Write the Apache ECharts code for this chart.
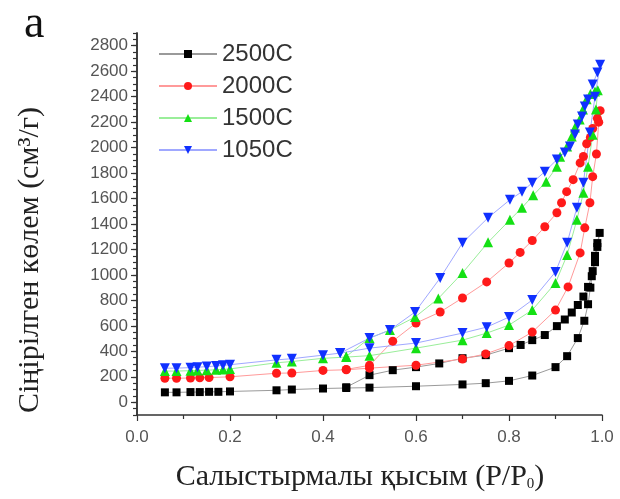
<!DOCTYPE html>
<html>
<head>
<meta charset="utf-8">
<script src="https://cdn.jsdelivr.net/npm/echarts@6/dist/echarts.min.js"></script>
<style>
  html, body { margin: 0; padding: 0; background: #fff; }
  #chart { width: 620px; height: 499px; }
</style>
</head>
<body>
<div id="chart"></div>
<script>
// adsorption branch followed by desorption branch, P/P0 and volume (cm3/g)
const p2500 = [0.06, 0.085, 0.115, 0.135, 0.155, 0.175, 0.2, 0.3, 0.333, 0.4, 0.45, 0.5, 0.6, 0.7, 0.75, 0.8, 0.85, 0.9, 0.925, 0.948, 0.962, 0.97, 0.975, 0.98, 0.985, 0.99, 0.995,
  0.99, 0.985, 0.978, 0.97, 0.96, 0.948, 0.935, 0.92, 0.903, 0.877, 0.85, 0.825, 0.8, 0.75, 0.7, 0.65, 0.6, 0.55, 0.5, 0.45];
const v2500 = [78, 78, 80, 80, 82, 82, 85, 94, 100, 108, 112, 115, 126, 140, 150, 168, 210, 276, 362, 504, 640, 770, 900, 1030, 1150, 1250, 1330,
  1220, 1100, 990, 906, 830, 764, 705, 650, 598, 528, 488, 450, 425, 370, 346, 305, 276, 252, 213, 118];

const p2000 = [0.06, 0.085, 0.115, 0.135, 0.155, 0.2, 0.3, 0.333, 0.4, 0.45, 0.5, 0.6, 0.7, 0.75, 0.8, 0.85, 0.9, 0.927, 0.953, 0.963, 0.974, 0.98, 0.988, 0.993, 0.996,
  0.99, 0.98, 0.975, 0.967, 0.96, 0.953, 0.938, 0.924, 0.913, 0.903, 0.877, 0.85, 0.824, 0.8, 0.752, 0.7, 0.652, 0.6, 0.55, 0.5, 0.45];
const v2000 = [189, 189, 190, 192, 194, 200, 228, 230, 250, 255, 268, 291, 340, 380, 445, 551, 724, 906, 1173, 1370, 1567, 1772, 1950, 2200, 2290,
  2230, 2150, 2080, 2030, 1930, 1880, 1748, 1654, 1567, 1488, 1378, 1270, 1177, 1094, 945, 819, 709, 622, 480, 290, 258];

const p1500 = [0.06, 0.085, 0.115, 0.13, 0.15, 0.17, 0.185, 0.2, 0.3, 0.333, 0.4, 0.45, 0.5, 0.6, 0.7, 0.752, 0.8, 0.85, 0.9, 0.925, 0.946, 0.96, 0.97, 0.98, 0.987, 0.991,
  0.985, 0.975, 0.967, 0.959, 0.952, 0.942, 0.935, 0.925, 0.91, 0.903, 0.88, 0.852, 0.828, 0.802, 0.755, 0.7, 0.648, 0.598, 0.544, 0.5, 0.45];
const v1500 = [245, 245, 248, 250, 252, 255, 258, 262, 310, 320, 345, 355, 366, 425, 488, 543, 606, 724, 937, 1157, 1433, 1646, 1850, 2100, 2300, 2450,
  2440, 2420, 2380, 2299, 2220, 2157, 2087, 2008, 1929, 1850, 1732, 1625, 1528, 1433, 1256, 1016, 815, 669, 567, 504, 360];

const p1050 = [0.06, 0.085, 0.115, 0.13, 0.15, 0.17, 0.185, 0.2, 0.3, 0.333, 0.4, 0.437, 0.5, 0.6, 0.7, 0.752, 0.8, 0.85, 0.9, 0.925, 0.946, 0.96, 0.974, 0.985, 0.996,
  0.99, 0.98, 0.97, 0.963, 0.957, 0.948, 0.942, 0.931, 0.92, 0.903, 0.877, 0.85, 0.828, 0.802, 0.755, 0.7, 0.652, 0.598, 0.544, 0.5, 0.437];
const v1050 = [268, 268, 272, 275, 280, 285, 290, 295, 333, 342, 370, 386, 425, 465, 543, 590, 669, 803, 1024, 1252, 1528, 1724, 2118, 2400, 2650,
  2590, 2496, 2378, 2323, 2244, 2181, 2102, 2008, 1961, 1906, 1811, 1724, 1654, 1590, 1449, 1252, 976, 709, 567, 504, 386];

const yMajorTicks = [0, 200, 400, 600, 800, 1000, 1200, 1400, 1600, 1800, 2000, 2200, 2400, 2600, 2800];

function zip(xs, ys) {
  return xs.map((x, i) => [x, ys[i]]);
}

const chart = echarts.init(document.getElementById('chart'));

function makeSeries(name, xs, ys, color, lineColor, symbol, size, rotate) {
  return {
    name: name,
    type: 'line',
    data: zip(xs, ys),
    symbol: symbol,
    symbolSize: size,
    symbolRotate: rotate || 0,
    itemStyle: { color: color },
    lineStyle: { color: lineColor, width: 1 },
    animation: false,
  };
}

const axisColor = '#333';
const tickFont = 'Liberation Sans, Arial, sans-serif';
const titleFont = '"Liberation Serif", serif';

chart.setOption({
  backgroundColor: '#fff',
  grid: { left: 137, right: 18, top: 33, bottom: 84 },
  legend: {
    orient: 'vertical',
    left: 153,
    top: 37,
    itemGap: 8,
    itemWidth: 58,
    itemHeight: 10,
    textStyle: { fontFamily: tickFont, fontSize: 24, color: '#333' },
    data: ['2500C', '2000C', '1500C', '1050C'],
  },
  xAxis: {
    type: 'value',
    min: 0,
    max: 1,
    interval: 0.2,
    axisLine: { onZero: false, lineStyle: { color: axisColor, width: 1.5 } },
    axisTick: { inside: false, length: 6, lineStyle: { color: axisColor, width: 1.2 } },
    minorTick: { show: true, splitNumber: 2, length: 4, lineStyle: { color: axisColor, width: 1.2 } },
    splitLine: { show: false },
    axisLabel: {
      margin: 14,
      fontFamily: tickFont,
      fontSize: 17,
      color: '#555',
      formatter: (v) => v.toFixed(1),
    },
  },
  yAxis: [
    {
      type: 'value',
      min: -100,
      max: 2900,
      axisLine: { show: true, onZero: false, lineStyle: { color: axisColor, width: 1.5 } },
      axisTick: { show: true, inside: false, length: 6, customValues: yMajorTicks, lineStyle: { color: axisColor, width: 1.2 } },
      splitLine: { show: false },
      axisLabel: {
        margin: 9,
        customValues: yMajorTicks,
        fontFamily: tickFont,
        fontSize: 17,
        color: '#555',
        formatter: (v) => String(v),
      },
    },
    {
      // minor ticks every 50
      type: 'value',
      min: -100,
      max: 2900,
      interval: 50,
      position: 'left',
      axisLine: { show: true, onZero: false, lineStyle: { color: axisColor, width: 1.5 } },
      axisTick: { show: true, inside: false, interval: 0, length: 4, lineStyle: { color: axisColor, width: 1.2 } },
      axisLabel: { show: true, formatter: () => '' },
      splitLine: { show: false },
    },
  ],
  graphic: [
    {
      type: 'text',
      left: 24,
      top: 2,
      style: { text: 'a', font: '46px ' + titleFont, fill: '#111' },
    },
    {
      type: 'text',
      x: 360,
      y: 477,
      style: {
        text: '{t|Салыстырмалы қысым (P/P}{s|0}{t|)}',
        rich: {
          t: { fontFamily: titleFont, fontSize: 30, fill: '#222' },
          s: { fontFamily: titleFont, fontSize: 15, fill: '#222', verticalAlign: 'bottom' },
        },
        align: 'center',
        verticalAlign: 'middle',
      },
    },
    {
      type: 'text',
      x: 30,
      y: 260,
      rotation: Math.PI / 2,
      style: {
        text: 'Сіңірілген көлем (см³/г)',
        font: '30px ' + titleFont,
        fill: '#222',
        align: 'center',
        verticalAlign: 'middle',
      },
    },
  ],
  series: [
    makeSeries('2500C', p2500, v2500, '#000000', '#9a9a9a', 'rect', 8),
    makeSeries('2000C', p2000, v2000, '#ff1a1a', '#ff9a9a', 'circle', 9),
    makeSeries('1500C', p1500, v1500, '#14e014', '#9aee9a', 'triangle', 10),
    makeSeries('1050C', p1050, v1050, '#1030ff', '#a0a8ff', 'triangle', 10, 180),
  ],
});
</script>
</body>
</html>
